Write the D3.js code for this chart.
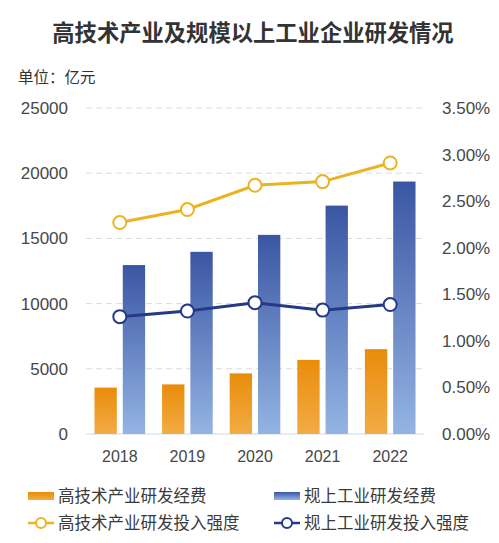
<!DOCTYPE html>
<html>
<head>
<meta charset="utf-8">
<script src="https://cdn.jsdelivr.net/npm/d3@7"></script>
<style>
  html, body { margin: 0; padding: 0; background: #fff; }
  svg { display: block; font-family: "Noto Sans CJK SC", "Noto Sans", sans-serif; }
</style>
</head>
<body>
<script>
// Data
const years = ["2018", "2019", "2020", "2021", "2022"];
const hiTechSpend = [3559.1, 3804.0, 4649.1, 5684.6, 6507.7];      // 亿元
const industrySpend = [12954.8, 13971.1, 15271.3, 17514.2, 19361.8]; // 亿元
const hiTechRatio = [2.27, 2.41, 2.67, 2.71, 2.91];                 // %
const industryRatio = [1.26, 1.32, 1.41, 1.33, 1.39];               // %
const leftTicks = [0, 5000, 10000, 15000, 20000, 25000];
const rightTicks = [0, 0.5, 1, 1.5, 2, 2.5, 3, 3.5];

const W = 499, H = 543;
const plot = { left: 86, right: 424, top: 108, bottom: 434 };
const numFont = "'Liberation Sans', Arial, sans-serif";

const svg = d3.select("body").append("svg")
  .attr("width", W)
  .attr("height", H);

// Gradients
const defs = svg.append("defs");
const addGrad = (id, top, bottom) => {
  const g = defs.append("linearGradient")
    .attr("id", id)
    .attr("x1", 0).attr("y1", 0).attr("x2", 0).attr("y2", 1);
  g.append("stop").attr("offset", "0%").attr("stop-color", top);
  g.append("stop").attr("offset", "100%").attr("stop-color", bottom);
};
addGrad("gOrange", "#e98c0a", "#f2ac45");
addGrad("gBlue", "#3a56a3", "#93b4e3");

// Title
svg.append("text")
  .attr("x", 253)
  .attr("y", 41)
  .attr("text-anchor", "middle")
  .style("font-size", "22.3px")
  .style("font-weight", "bold")
  .style("fill", "#333")
  .text("高技术产业及规模以上工业企业研发情况");

// Unit
svg.append("text")
  .attr("x", 18)
  .attr("y", 83)
  .style("font-size", "15.5px")
  .style("fill", "#333")
  .text("单位：亿元");

// Scales
const x = d3.scaleBand()
  .domain(years)
  .range([plot.left, plot.right]);

const x1 = d3.scaleBand()
  .domain(["hi", "ind"])
  .range([0, x.bandwidth()])
  .paddingInner(0.21)
  .paddingOuter(0.3);

const yL = d3.scaleLinear()
  .domain([0, 25000])
  .range([plot.bottom, plot.top]);

const yR = d3.scaleLinear()
  .domain([0, 3.5])
  .range([plot.bottom, plot.top]);

// Gridlines
svg.append("g")
  .selectAll("line")
  .data(leftTicks.filter((d) => d > 0))
  .enter()
  .append("line")
  .attr("x1", plot.left)
  .attr("x2", plot.right)
  .attr("y1", (d) => yL(d))
  .attr("y2", (d) => yL(d))
  .attr("stroke", "#dcdcdc")
  .attr("stroke-width", 1)
  .attr("stroke-dasharray", "6,4");

svg.append("line")
  .attr("x1", plot.left)
  .attr("x2", plot.right)
  .attr("y1", yL(0))
  .attr("y2", yL(0))
  .attr("stroke", "#dfe4ee")
  .attr("stroke-width", 1.5);

// Left axis
const leftAxis = svg.append("g")
  .attr("transform", `translate(${plot.left - 18},0)`)
  .call(d3.axisLeft(yL).tickValues(leftTicks).tickSize(0).tickPadding(0)
    .tickFormat(d3.format("d")));
leftAxis.select(".domain").remove();
leftAxis.selectAll("text")
  .style("font-size", "17px")
  .style("font-family", numFont)
  .style("fill", "#474747");

// Right axis
const rightAxis = svg.append("g")
  .attr("transform", `translate(${plot.right + 18},0)`)
  .call(d3.axisRight(yR).tickValues(rightTicks).tickSize(0).tickPadding(0)
    .tickFormat((d) => d.toFixed(2) + "%"));
rightAxis.select(".domain").remove();
rightAxis.selectAll("text")
  .style("font-size", "17px")
  .style("font-family", numFont)
  .style("fill", "#474747");

// Bottom axis
const bottomAxis = svg.append("g")
  .attr("transform", `translate(0,${plot.bottom + 17})`)
  .call(d3.axisBottom(x).tickSize(0).tickPadding(0));
bottomAxis.select(".domain").remove();
bottomAxis.selectAll("text")
  .style("font-size", "16px")
  .style("font-family", numFont)
  .style("fill", "#474747");

// Bars
const groups = svg.append("g")
  .selectAll("g")
  .data(years)
  .enter()
  .append("g")
  .attr("transform", (d) => `translate(${x(d)},0)`);

groups.append("rect")
  .attr("x", x1("hi"))
  .attr("width", x1.bandwidth())
  .attr("y", (d, i) => yL(hiTechSpend[i]))
  .attr("height", (d, i) => yL(0) - yL(hiTechSpend[i]))
  .attr("fill", "url(#gOrange)");

groups.append("rect")
  .attr("x", x1("ind"))
  .attr("width", x1.bandwidth())
  .attr("y", (d, i) => yL(industrySpend[i]))
  .attr("height", (d, i) => yL(0) - yL(industrySpend[i]))
  .attr("fill", "url(#gBlue)");

// Lines
const cx = (d) => x(d) + x.bandwidth() / 2;

const drawLine = (values, color) => {
  const pts = years.map((d, i) => [cx(d), yR(values[i])]);
  svg.append("path")
    .attr("d", d3.line()(pts))
    .attr("fill", "none")
    .attr("stroke", color)
    .attr("stroke-width", 3);
  svg.append("g")
    .selectAll("circle")
    .data(pts)
    .enter()
    .append("circle")
    .attr("cx", (p) => p[0])
    .attr("cy", (p) => p[1])
    .attr("r", 6.5)
    .attr("fill", "#fff")
    .attr("stroke", color)
    .attr("stroke-width", 2);
};
drawLine(hiTechRatio, "#ebb320");
drawLine(industryRatio, "#243a86");

// Legend
const legend = svg.append("g");
const legendItems = [
  { label: "高技术产业研发经费", type: "bar", fill: "url(#gOrange)", x: 28, y: 496 },
  { label: "规上工业研发经费", type: "bar", fill: "url(#gBlue)", x: 274, y: 496 },
  { label: "高技术产业研发投入强度", type: "line", color: "#ebb320", x: 28, y: 523 },
  { label: "规上工业研发投入强度", type: "line", color: "#243a86", x: 274, y: 523 },
];

legendItems.forEach((item) => {
  if (item.type === "bar") {
    legend.append("rect")
      .attr("x", item.x)
      .attr("y", item.y - 4)
      .attr("width", 26)
      .attr("height", 8)
      .attr("fill", item.fill);
  } else {
    legend.append("line")
      .attr("x1", item.x)
      .attr("x2", item.x + 26)
      .attr("y1", item.y)
      .attr("y2", item.y)
      .attr("stroke", item.color)
      .attr("stroke-width", 2.5);
    legend.append("circle")
      .attr("cx", item.x + 13)
      .attr("cy", item.y)
      .attr("r", 5)
      .attr("fill", "#fff")
      .attr("stroke", item.color)
      .attr("stroke-width", 2);
  }
  legend.append("text")
    .attr("x", item.x + 30)
    .attr("y", item.y)
    .attr("dy", "0.35em")
    .style("font-size", "16.5px")
    .style("fill", "#3a3a3a")
    .text(item.label);
});
</script>
</body>
</html>
